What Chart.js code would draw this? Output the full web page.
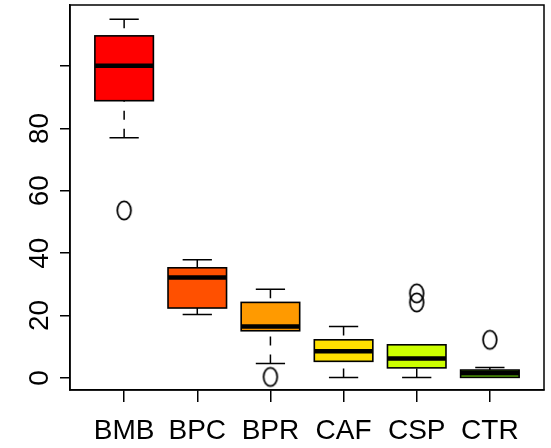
<!DOCTYPE html>
<html>
<head>
<meta charset="utf-8">
<script src="https://cdn.jsdelivr.net/npm/chart.js@4/dist/chart.umd.min.js"></script>
<style>
  html, body { margin: 0; padding: 0; background: #fff; }
  #wrap { width: 551px; height: 448px; }
</style>
</head>
<body>
<div id="wrap"><canvas id="box"></canvas></div>
<script>
// Five-number summaries per group
const categories = ["BMB", "BPC", "BPR", "CAF", "CSP", "CTR"];
const whiskerLow = [77.0, 20.3, 4.6, 0.1, 0.1, 0.15];
const lowerQuartile = [88.9, 22.4, 15.1, 5.3, 3.2, 0.15];
const medians = [100.1, 32.2, 16.5, 8.5, 6.2, 1.45];
const upperQuartile = [109.7, 35.3, 24.2, 12.2, 10.6, 2.5];
const whiskerHigh = [115.0, 37.9, 28.4, 16.5, 10.6, 3.3];
const outliers = [[53.7], [], [0.3], [], [27.1, 24.2], [12.2]];
const boxColors = ["#ff0000", "#ff5000", "#ff9a00", "#ffe000", "#ccff00", "#6ccf0a"];
const yTicks = [0, 20, 40, 60, 80, 100];

const FONT = "'Liberation Sans', Arial, Helvetica, sans-serif";

// open ellipse marker, like R's pch = 1 on this device
function makeMarker() {
  const c = document.createElement("canvas");
  c.width = 18;
  c.height = 23;
  const g = c.getContext("2d");
  g.strokeStyle = "#000";
  g.lineWidth = 1.8;
  g.beginPath();
  g.ellipse(9, 11.5, 6.8, 9.2, 0, 0, Math.PI * 2);
  g.stroke();
  return c;
}

const outlierPoints = [];
outliers.forEach((vals, i) => {
  vals.forEach((v) => outlierPoints.push({ x: i + 1, y: v }));
});

const boxPlugin = {
  id: "boxes",
  beforeDatasetsDraw(chart) {
    const { ctx } = chart;
    const xs = chart.scales.x;
    const ys = chart.scales.y;
    const unit = xs.getPixelForValue(2) - xs.getPixelForValue(1);
    const half = unit * 0.4;
    const cap = unit * 0.2;

    ctx.save();
    categories.forEach((name, i) => {
      const cx = xs.getPixelForValue(i + 1);
      const yLo = ys.getPixelForValue(whiskerLow[i]);
      const yQ1 = ys.getPixelForValue(lowerQuartile[i]);
      const yMed = ys.getPixelForValue(medians[i]);
      const yQ3 = ys.getPixelForValue(upperQuartile[i]);
      const yHi = ys.getPixelForValue(whiskerHigh[i]);

      // dashed whiskers, drawn from the whisker end toward the box
      ctx.strokeStyle = "#000";
      ctx.lineWidth = 1.5;
      ctx.setLineDash([9, 9]);
      ctx.beginPath();
      ctx.moveTo(cx, yLo);
      ctx.lineTo(cx, yQ1);
      ctx.moveTo(cx, yHi);
      ctx.lineTo(cx, yQ3);
      ctx.stroke();
      ctx.setLineDash([]);

      // staples
      ctx.beginPath();
      ctx.moveTo(cx - cap, yLo);
      ctx.lineTo(cx + cap, yLo);
      ctx.moveTo(cx - cap, yHi);
      ctx.lineTo(cx + cap, yHi);
      ctx.stroke();

      // box
      ctx.fillStyle = boxColors[i];
      ctx.fillRect(cx - half, yQ3, half * 2, yQ1 - yQ3);
      ctx.lineWidth = 1.6;
      ctx.strokeRect(cx - half, yQ3, half * 2, yQ1 - yQ3);

      // median
      ctx.lineWidth = 4.5;
      ctx.lineCap = "butt";
      ctx.beginPath();
      ctx.moveTo(cx - half, yMed);
      ctx.lineTo(cx + half, yMed);
      ctx.stroke();
    });

    // plot frame
    const a = chart.chartArea;
    ctx.lineWidth = 1.5;
    ctx.strokeStyle = "#000";
    ctx.strokeRect(a.left, a.top, a.right - a.left, a.bottom - a.top);
    ctx.restore();
  },
};

const ctx = document.getElementById("box").getContext("2d");
new Chart(ctx, {
  type: "scatter",
  data: {
    datasets: [
      {
        label: "outliers",
        data: outlierPoints,
        pointStyle: makeMarker(),
        pointRadius: 9,
      },
    ],
  },
  options: {
    responsive: true,
    maintainAspectRatio: false,
    animation: false,
    events: [],
    layout: {
      autoPadding: false,
      padding: { top: 5, right: 7, left: 0, bottom: 0 },
    },
    plugins: {
      legend: { display: false },
      tooltip: { enabled: false },
    },
    scales: {
      x: {
        type: "linear",
        min: 0.26,
        max: 6.74,
        afterBuildTicks: (scale) => {
          scale.ticks = categories.map((c, i) => ({ value: i + 1 }));
        },
        afterFit: (scale) => {
          scale.height = 58;
          scale.paddingLeft = 0;
          scale.paddingRight = 0;
        },
        ticks: {
          callback: (v) => categories[v - 1],
          color: "#000",
          font: { family: FONT, size: 28 },
          padding: 12,
          maxRotation: 0,
          autoSkip: false,
        },
        grid: {
          drawOnChartArea: false,
          tickLength: 12,
          tickColor: "#000",
          lineWidth: 1.5,
        },
        border: { display: true, color: "#000", width: 1.5 },
      },
      y: {
        type: "linear",
        min: -3.9,
        max: 119.6,
        afterBuildTicks: (scale) => {
          scale.ticks = yTicks.map((v) => ({ value: v }));
        },
        afterFit: (scale) => {
          scale.width = 70;
          scale.paddingTop = 0;
          scale.paddingBottom = 0;
        },
        ticks: {
          // R leaves out the top label here
          callback: (v) => (v === 100 ? "" : String(v)),
          color: "#000",
          font: { family: FONT, size: 28 },
          minRotation: 90,
          maxRotation: 90,
          crossAlign: "center",
          padding: 4,
          autoSkip: false,
        },
        grid: {
          drawOnChartArea: false,
          tickLength: 10,
          tickColor: "#000",
          lineWidth: 1.5,
        },
        border: { display: true, color: "#000", width: 1.5 },
      },
    },
  },
  plugins: [boxPlugin],
});
</script>
</body>
</html>
